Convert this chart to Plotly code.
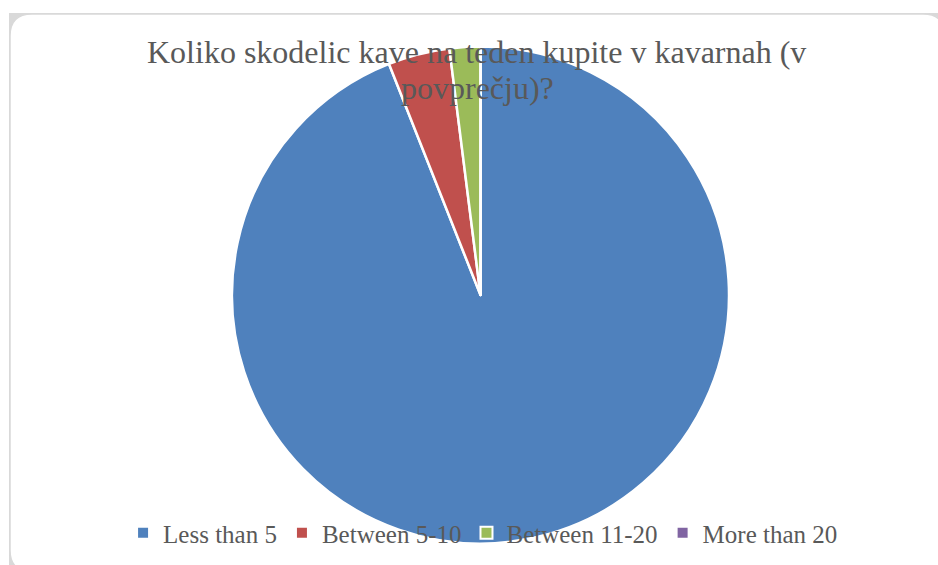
import plotly.graph_objects as go

W, H = 938, 565

categories = ["Less than 5", "Between 5-10", "Between 11-20", "More than 20"]
counts = [47, 2, 1, 0]
colors = ["#4F81BD", "#C0504D", "#9BBB59", "#8064A2"]
title_lines = ["Koliko skodelic kave na teden kupite v kavarnah (v", "povprečju)?"]


def px_x(v):
    return v / W


def px_y(v):
    return 1 - v / H


fig = go.Figure(
    go.Pie(
        labels=categories,
        values=counts,
        sort=False,
        direction="clockwise",
        rotation=0,
        textinfo="none",
        hoverinfo="label+value+percent",
        marker=dict(colors=colors, line=dict(color="white", width=2.5)),
        domain=dict(x=[px_x(232), px_x(729)], y=[px_y(543.5), px_y(46.5)]),
    )
)

# rounded chart frame with soft grey corners
r = 22
x0, y0, x1, y1 = 10, 14, 945, 572
frame = (
    f"M {px_x(x0)},{px_y(y0 + r)} "
    f"Q {px_x(x0)},{px_y(y0)} {px_x(x0 + r)},{px_y(y0)} "
    f"L {px_x(x1 - r)},{px_y(y0)} "
    f"Q {px_x(x1)},{px_y(y0)} {px_x(x1)},{px_y(y0 + r)} "
    f"L {px_x(x1)},{px_y(y1 - r)} "
    f"Q {px_x(x1)},{px_y(y1)} {px_x(x1 - r)},{px_y(y1)} "
    f"L {px_x(x0 + r)},{px_y(y1)} "
    f"Q {px_x(x0)},{px_y(y1)} {px_x(x0)},{px_y(y1 - r)} Z"
)
fig.add_shape(type="rect", xref="paper", yref="paper",
              x0=px_x(9), x1=px_x(946), y0=px_y(13), y1=px_y(573),
              fillcolor="#D9D9D9", line=dict(width=0), layer="below")
fig.add_shape(type="path", xref="paper", yref="paper", path=frame,
              fillcolor="white", line=dict(color="#D9D9D9", width=1.5), layer="below")

# two-line chart title, each line placed on its own
title_font = dict(family="Liberation Serif", size=32, color="#595959")
for text, cy, cx in zip(title_lines, [52, 88], [476.5, 477.5]):
    fig.add_annotation(
        text=text, xref="paper", yref="paper",
        x=px_x(cx), y=px_y(cy), xanchor="center", yanchor="middle",
        showarrow=False, font=title_font,
    )

fig.update_layout(
    width=W,
    height=H,
    margin=dict(l=0, r=0, t=0, b=0),
    paper_bgcolor="white",
    plot_bgcolor="white",
    showlegend=True,
    legend=dict(
        orientation="h",
        x=0.515,
        xanchor="center",
        y=px_y(510),
        yanchor="top",
        bgcolor="rgba(0,0,0,0)",
        font=dict(family="Liberation Serif", size=25, color="#595959"),
        itemsizing="constant",
        traceorder="normal",
    ),
)

fig.write_html("out.html")
